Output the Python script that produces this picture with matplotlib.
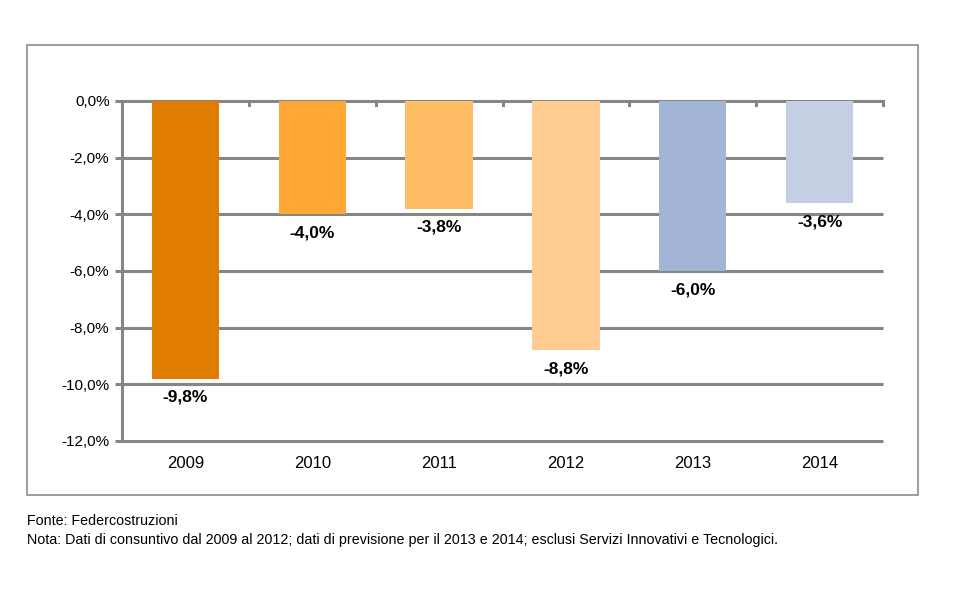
import matplotlib
matplotlib.use("Agg")
import matplotlib.pyplot as plt
from matplotlib.patches import Rectangle

plt.rcParams["font.family"] = ["Liberation Sans", "DejaVu Sans"]

# data
years = ["2009", "2010", "2011", "2012", "2013", "2014"]
values = [-9.8, -4.0, -3.8, -8.8, -6.0, -3.6]
colors = ["#E07D00", "#FFA838", "#FFBD66", "#FFCC91", "#A3B5D6", "#C4CFE4"]
yticks = [0, -2, -4, -6, -8, -10, -12]

source_text = "Fonte: Federcostruzioni"
note_text = ("Nota: Dati di consuntivo dal 2009 al 2012; dati di previsione per il 2013 e 2014; "
             "esclusi Servizi Innovativi e Tecnologici.")

GRID = "#868686"


def pct(v):
    return f"{v:.1f}%".replace(".", ",")


fig = plt.figure(figsize=(9.6, 6.03), dpi=100)

# outer frame around the chart
frame = Rectangle((27 / 960, 1 - 495 / 603), (918 - 27) / 960, (495 - 45) / 603,
                  transform=fig.transFigure, fill=False, edgecolor="#8c8c8c", lw=1.2)
fig.patches.append(frame)

ax = fig.add_axes([122 / 960, 1 - 441 / 603, (883 - 122) / 960, (441 - 101) / 603])

x = list(range(len(years)))
ax.set_ylim(-12, 0)
ax.set_xlim(-0.5, len(years) - 0.5)

# horizontal gridlines (unclipped so the edge ones keep full width)
for t in yticks:
    ax.plot([-0.5, len(years) - 0.5], [t, t], color=GRID, lw=2.2, zorder=1,
            clip_on=False, solid_capstyle="butt")

ax.bar(x, values, width=0.53, color=colors, zorder=3)

for xi, v in zip(x, values):
    ax.annotate(pct(v), (xi, v), xytext=(0, -8), textcoords="offset points",
                ha="center", va="top", fontsize=12.5, fontweight="bold", color="#000000")

ax.set_yticks(yticks)
ax.set_yticklabels([pct(t) for t in yticks], fontsize=11)

# category ticks at boundaries on the zero line, labels at bottom
ax.set_xticks(x)
ax.set_xticklabels(years, fontsize=12)
ax.tick_params(axis="x", length=0, pad=11)
for b in [i + 0.5 for i in x]:
    ax.plot([b, b], [0, -0.15], color=GRID, lw=2.2, zorder=2, clip_on=False)

ax.tick_params(axis="y", length=5, width=2.2, color=GRID, pad=4)

for s in ["right", "bottom", "top"]:
    ax.spines[s].set_visible(False)
ax.spines["left"].set_color(GRID)
ax.spines["left"].set_linewidth(2.2)
ax.spines["left"].set_zorder(4)

fig.text(27 / 960, 1 - 521 / 603, source_text, fontsize=10.3, va="center", ha="left")
fig.text(27 / 960, 1 - 540 / 603, note_text, fontsize=10.3, va="center", ha="left")

fig.savefig("out.png", dpi=100)
